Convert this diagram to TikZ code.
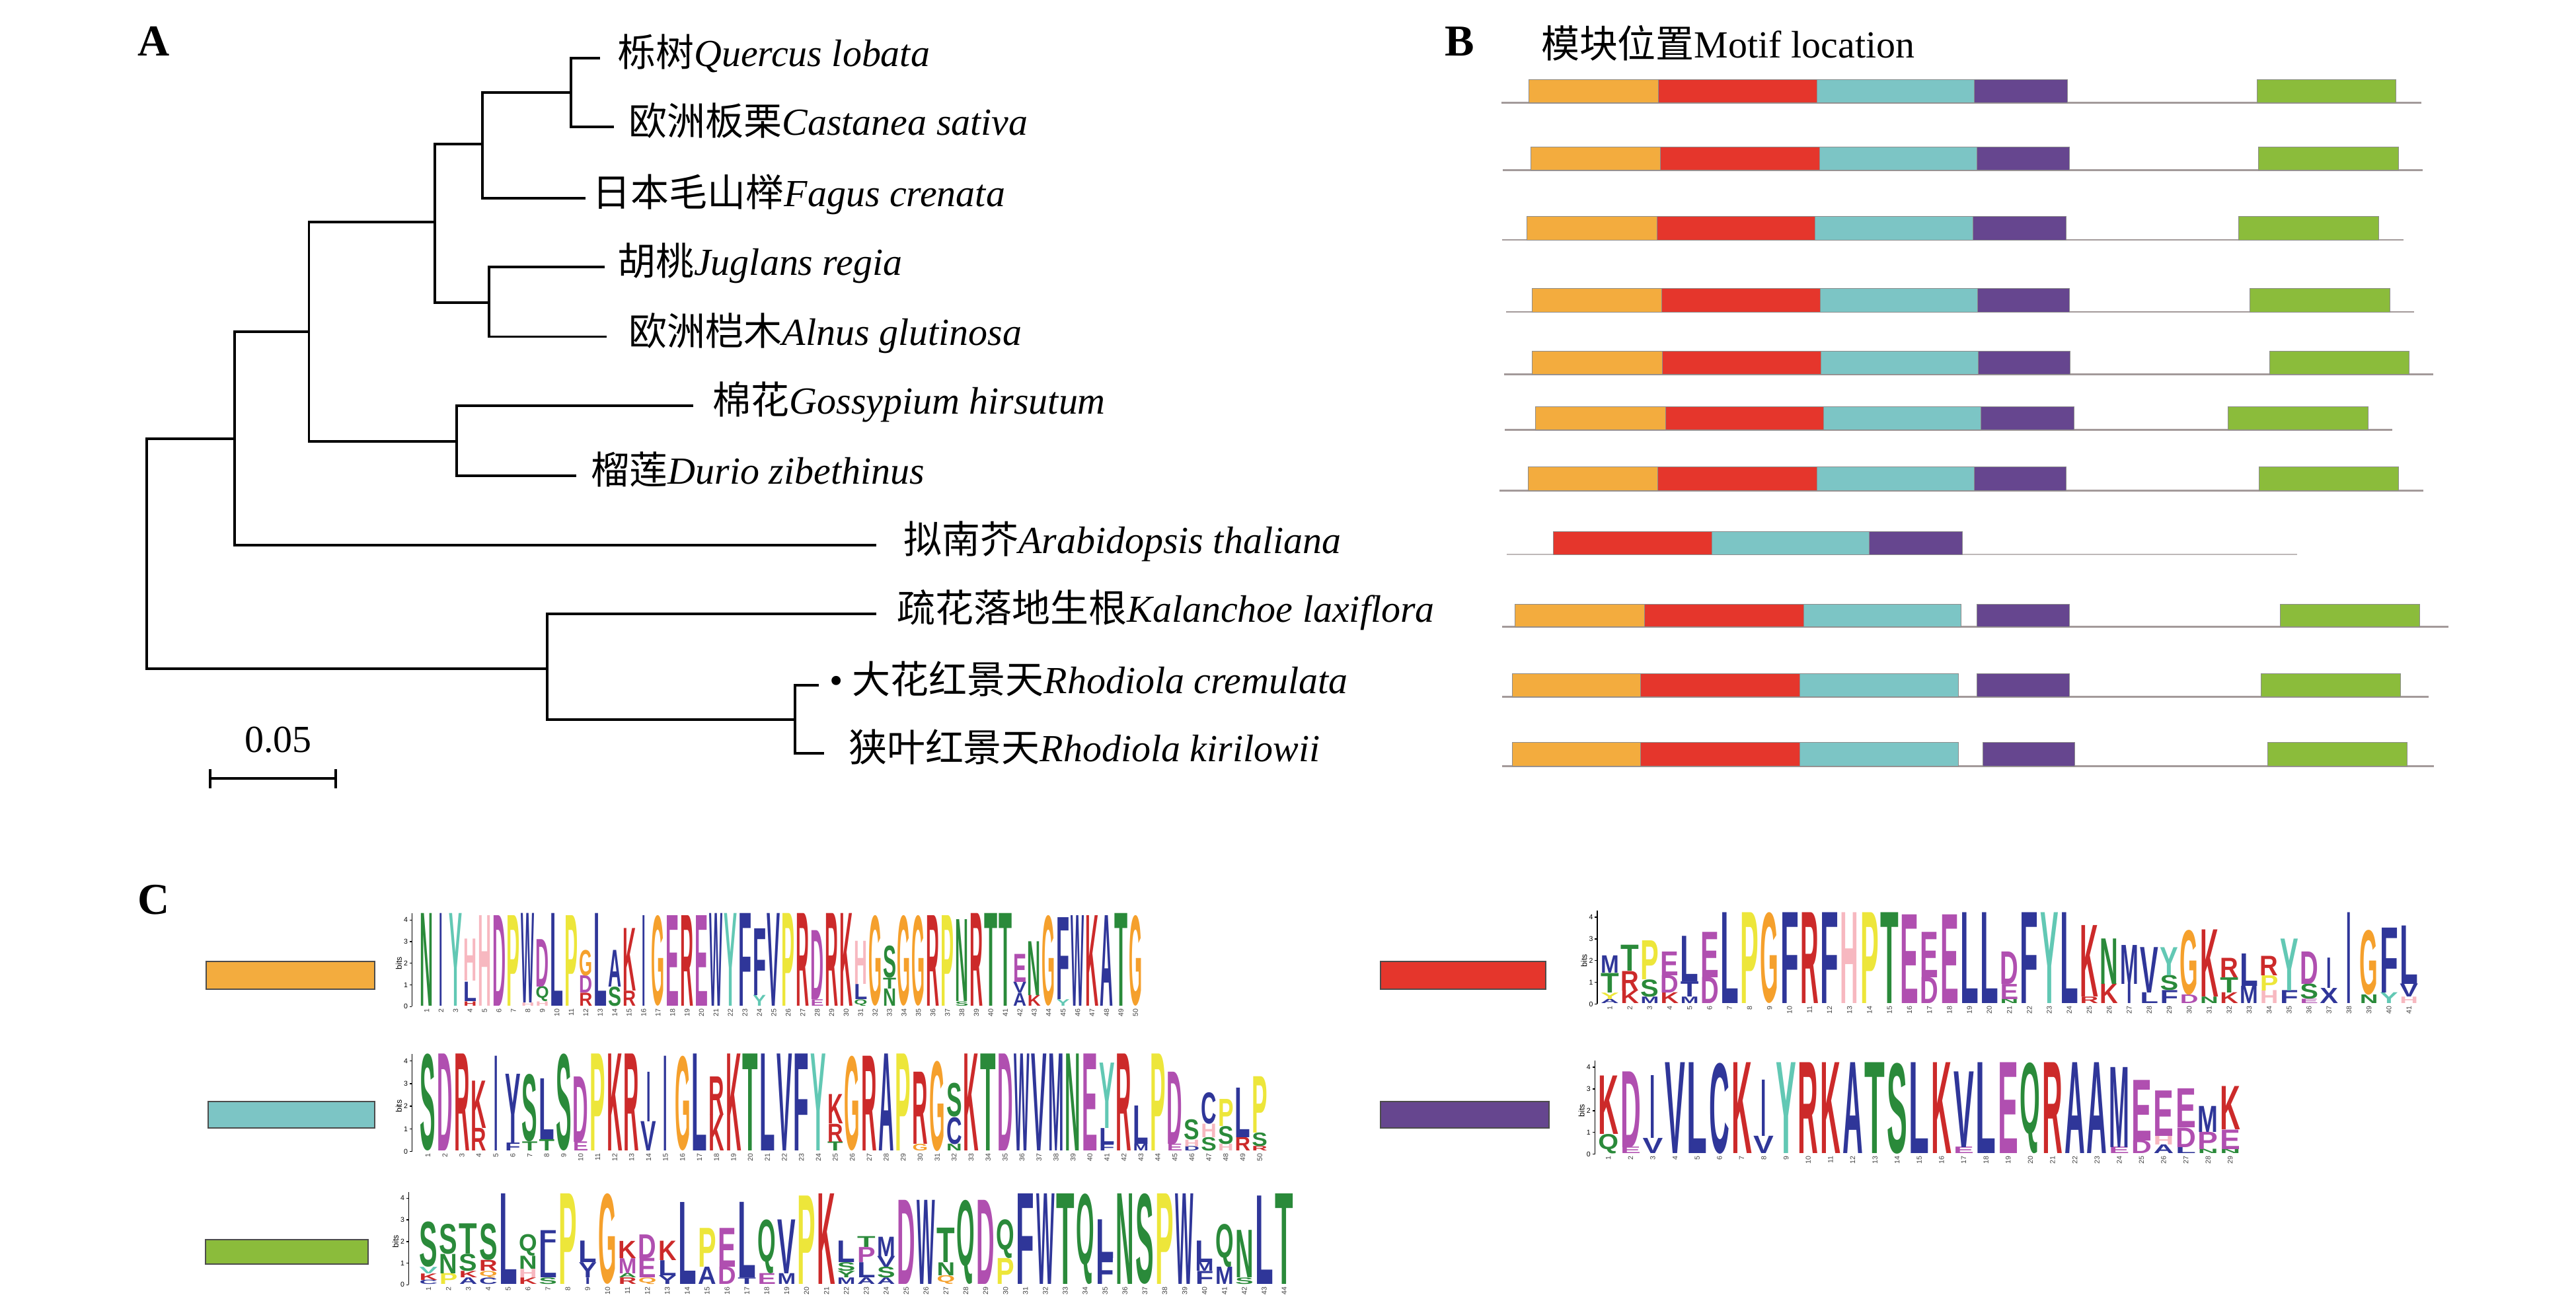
\documentclass[tikz,border=0pt]{standalone}
\usepackage{fontspec}
\usepackage{graphicx}
\setmainfont{Liberation Serif}
\newfontfamily\cjk{Noto Sans CJK SC}
\newfontfamily\logofont{Liberation Sans}

% motif bar colours
\definecolor{mo}{HTML}{F3AC3E}
\definecolor{mr}{HTML}{E5362C}
\definecolor{mc}{HTML}{7CC5C5}
\definecolor{mp}{HTML}{66468F}
\definecolor{mg}{HTML}{8BBC3B}
\definecolor{seq}{HTML}{A39A9A}
% logo letter colours
\definecolor{lb}{HTML}{2F3699}
\definecolor{lg}{HTML}{2A8A3A}
\definecolor{lr}{HTML}{CC2A2A}
\definecolor{lm}{HTML}{B04FB0}
\definecolor{ly}{HTML}{EDE63A}
\definecolor{lo}{HTML}{F5A02C}
\definecolor{lp}{HTML}{F7B8C0}
\definecolor{lc}{HTML}{62C8B4}

\tikzset{
  branch/.style={line width=1.1pt},
  lab/.style={anchor=west,inner sep=0pt,text height=0.92em,text depth=0.2em,font=\fontsize{16.5}{18}\selectfont},
  panel/.style={inner sep=0pt,font=\fontsize{19}{20}\selectfont\bfseries},
  aa/.style={anchor=south,inner sep=0pt,font=\logofont\bfseries},
  num/.style={rotate=90,anchor=east,inner sep=0pt,text=black!75,font=\logofont\fontsize{3}{3}\selectfont},
  tick/.style={left,inner sep=0.6pt,font=\logofont\fontsize{3}{3}\selectfont},
  motif/.style={draw=black!45,line width=0.25pt},
  legend/.style={draw=black!70,line width=0.6pt}
}

\begin{document}
\begin{tikzpicture}[x=0.025cm,y=-0.025cm]
\useasboundingbox (0,0) rectangle (1560,794);

\node[panel] (A) at (93,25) {A};
\node[panel] (B) at (884,25) {B};
\node[panel] (C) at (93,545) {C};

% A: tree
\coordinate (root) at (89.0,335.4);
\coordinate (nA) at (142.0,265.7);
\coordinate (nB) at (187.1,201.0);
\coordinate (nC) at (263.3,134.5);
\coordinate (nD) at (292.2,87.1);
\coordinate (nF) at (345.9,56.1);
\coordinate (nE) at (296.2,183.4);
\coordinate (nG) at (276.6,267.5);
\coordinate (nH) at (331.5,404.9);
\coordinate (nI) at (481.6,435.9);

\coordinate (l1) at (363.2,35.2);
\coordinate (l2) at (371.9,76.8);
\coordinate (l3) at (354.6,120.1);
\coordinate (l4) at (366.1,161.6);
\coordinate (l5) at (367.3,203.9);
\coordinate (l6) at (419.9,245.8);
\coordinate (l7) at (348.8,288.1);
\coordinate (l8) at (530.7,330.3);
\coordinate (l9) at (530.7,371.9);
\coordinate (l10) at (495.9,415.1);
\coordinate (l11) at (499.0,456.1);

\foreach \p/\q in {root/nA,root/nH,nA/nB,nA/l8,nB/nC,nB/nG,nC/nD,nC/nE,nD/nF,nD/l3,
  nF/l1,nF/l2,nE/l4,nE/l5,nG/l6,nG/l7,nH/l9,nH/nI,nI/l10,nI/l11}
  \draw[branch] (\p) |- (\q);

\node[lab] (quercus) at (373.6,35.2) {{\cjk 栎树}\textit{Quercus lobata}};
\node[lab] (castanea) at (380.6,76.8) {{\cjk 欧洲板栗}\textit{Castanea sativa}};
\node[lab] (fagus) at (358.6,120.1) {{\cjk 日本毛山榉}\textit{Fagus crenata}};
\node[lab] (juglans) at (373.6,161.6) {{\cjk 胡桃}\textit{Juglans regia}};
\node[lab] (alnus) at (380.6,203.9) {{\cjk 欧洲桤木}\textit{Alnus glutinosa}};
\node[lab] (gossypium) at (431.4,245.8) {{\cjk 棉花}\textit{Gossypium hirsutum}};
\node[lab] (durio) at (357.8,288.1) {{\cjk 榴莲}\textit{Durio zibethinus}};
\node[lab] (arabidopsis) at (546.9,330.3) {{\cjk 拟南芥}\textit{Arabidopsis thaliana}};
\node[lab] (kalanchoe) at (543.0,371.9) {{\cjk 疏花落地生根}\textit{Kalanchoe laxiflora}};
\node[lab] (cremulata) at (502.0,415.1) {• {\cjk 大花红景天}\textit{Rhodiola cremulata}};
\node[lab] (kirilowii) at (513.6,456.1) {{\cjk 狭叶红景天}\textit{Rhodiola kirilowii}};

% scale bar
\coordinate (s1) at (127.4,471.6);
\coordinate (s2) at (203.4,471.6);
\draw[branch] (s1) -- (s2);
\draw[branch] (s1) ++(0,-5.8) -- ++(0,11.6);
\draw[branch] (s2) ++(0,-5.8) -- ++(0,11.6);
\node[font=\fontsize{16.5}{18}\selectfont,inner sep=0pt] (scale) at (168.5,448.2) {0.05};

% B: motif locations
\node[lab] (title) at (933,30) {{\cjk 模块位置}Motif location};

\begin{scope}[xshift=0.301cm,xscale=0.987]
\foreach \yt/\yb/\la/\lz/\xa/\xb/\xc/\xd/\pa/\xe/\ga/\gb in {
  48.3/62.3/908.9/1473.4/926.0/1005.4/1102.8/1199.3/1199.3/1256.3/1372.5/1458.0,
  89.0/103.0/909.8/1474.3/926.9/1006.7/1104.1/1200.6/1200.6/1257.6/1373.4/1459.4,
  131.0/145.3/909.3/1462.4/924.7/1004.5/1101.5/1198.4/1198.4/1255.4/1361.5/1447.1,
  174.6/188.9/912.0/1469.0/927.8/1007.2/1104.5/1201.0/1201.0/1257.6/1368.1/1454.1,
  212.7/226.7/910.7/1480.9/927.8/1007.6/1105.0/1201.5/1201.5/1258.0/1380.4/1465.9,
  246.5/260.4/911.1/1455.8/930.0/1009.8/1106.7/1203.2/1203.2/1260.2/1355.0/1440.9,
  282.7/297.0/908.0/1474.7/925.6/1005.0/1102.8/1199.3/1199.3/1255.4/1373.8/1459.4,
  366.0/379.7/909.3/1490.1/917.2/996.6/1094.4/1190.9/1200.6/1257.6/1387.0/1472.5,
  408.0/422.0/909.3/1477.8/915.5/994.4/1092.2/1189.2/1200.6/1257.6/1375.1/1460.7,
  449.7/464.0/909.3/1481.3/915.5/994.4/1092.2/1189.2/1204.5/1260.7/1379.1/1464.6}
{
  \draw[seq,line width=0.8pt] (\la,\yb) -- (\lz,\yb);
  \filldraw[motif,fill=mo] (\xa,\yt) rectangle (\xb,\yb);
  \filldraw[motif,fill=mr] (\xb,\yt) rectangle (\xc,\yb);
  \filldraw[motif,fill=mc] (\xc,\yt) rectangle (\xd,\yb);
  \filldraw[motif,fill=mp] (\pa,\yt) rectangle (\xe,\yb);
  \filldraw[motif,fill=mg] (\ga,\yt) rectangle (\gb,\yb);
}
% Arabidopsis row
\draw[seq!70,line width=0.8pt] (912.4,335.8) -- (1397.1,335.8);
\filldraw[motif,fill=mr] (940.9,322.1) rectangle (1038.3,335.8);
\filldraw[motif,fill=mc] (1038.3,322.1) rectangle (1134.8,335.8);
\filldraw[motif,fill=mp] (1134.8,322.1) rectangle (1191.8,335.8);
\end{scope}

% C: legend bars
\filldraw[legend,fill=mo] (125.0,582.3) rectangle (226.8,599.0);
\filldraw[legend,fill=mc] (126.1,667.3) rectangle (226.8,683.0);
\filldraw[legend,fill=mg] (124.4,750.7) rectangle (222.8,765.7);
\filldraw[legend,fill=mr] (836,582.3) rectangle (936,599.0);
\filldraw[legend,fill=mp] (836,667.3) rectangle (938,683.0);

% C: sequence logos
\begin{scope}[shift={(249.5,609.6)}]
\def\cw{8.76}\def\bt{13.1}\def\ox{4.5}
\draw[line width=0.4pt] (0,0) -- (0,{-4.3*\bt});
\foreach \k in {0,...,4} \draw[line width=0.4pt] (0,{-\k*\bt}) -- ++(-1.5,0) node[tick] (ta\k) {\k};
\node[rotate=90,font=\logofont\fontsize{3.5}{3.5}\selectfont] (bitsa) at (-8,{-2*\bt}) {bits};
\foreach \ci/\ch/\lo/\hi/\cl in {
  1/N/0/4.3/lg, 2/I/0/4.3/lb, 3/Y/0/4.3/lc,
  4/H/0/0.2/lr, 4/L/0.2/1.1/lb, 4/H/1.15/3.1/lp,
  5/H/0/4.2/lp, 6/D/0/4.2/lm, 7/P/0/4.2/ly, 8/H/0/0.15/lp, 8/W/0.15/4.3/lb,
  9/H/0/0.2/lp, 9/Q/0.2/0.9/lg, 9/D/0.9/3.1/lm,
  10/L/0/4.3/lb, 11/P/0/4.2/ly,
  12/R/0/0.6/lr, 12/D/0.6/1.4/lm, 12/G/1.4/2.6/lo,
  13/L/0/4.3/lb, 14/S/0/0.9/lg, 14/A/0.9/2.6/lb, 15/R/0/0.7/lr, 15/K/0.7/3.6/lr,
  16/I/0/4.2/lb, 17/G/0/4.2/lo, 18/E/0/4.2/lm, 19/R/0/4.2/lr, 20/E/0/4.2/lm,
  21/W/0/4.3/lb, 22/Y/0/4.3/lc, 23/F/0/4.3/lb, 24/Y/0/0.5/lc, 24/F/0.5/3.6/lb,
  25/V/0/4.3/lb, 26/P/0/4.3/ly, 27/R/0/4.3/lr, 28/E/0/0.3/lm, 28/D/0.3/3.5/lm,
  29/R/0/4.3/lr, 30/K/0/4.3/lr, 31/Q/0/0.3/lg, 31/L/0.3/1.0/lb, 31/H/1.0/3.0/lp,
  32/G/0/4.2/lo, 33/N/0/0.8/lg, 33/T/0.8/1.3/lg, 33/S/1.3/2.8/lg,
  34/G/0/4.2/lo, 35/G/0/4.2/lo, 36/R/0/4.2/lr, 37/P/0/4.2/ly,
  38/S/0/0.2/lg, 38/N/0.2/4.0/lg, 39/R/0/4.3/lr, 40/T/0/4.3/lg, 41/T/0/4.3/lg,
  42/A/0/0.6/lb, 42/V/0.6/1.1/lb, 42/E/1.1/2.4/lm, 43/K/0/0.5/lr, 43/N/0.5/3.0/lg,
  44/G/0/4.2/lo, 45/Y/0/0.3/lc, 45/F/0.3/4.1/lb, 46/W/0/4.2/lb, 47/K/0/4.2/lr,
  48/A/0/4.2/lb, 49/T/0/4.3/lg, 50/G/0/4.2/lo}
{
  \if\ch I\def\lw{0.25}\else\def\lw{0.92}\fi
  \pgfmathsetmacro\lh{(\hi-\lo)*\bt*0.7087}
  \pgfmathsetmacro\lwd{\lw*\cw*0.7087}
  \node[aa] (a\ci\ch) at ({(\ci-0.5)*\cw+\ox},{-\lo*\bt}) {\resizebox*{\lwd pt}{\lh pt}{\color{\cl}\ch}};
}
\foreach \i in {1,...,50} \node[num] (pa\i) at ({(\i-0.5)*\cw+\ox},1) {\i};
\end{scope}

\begin{scope}[shift={(249.5,697.4)}]
\def\cw{10.28}\def\bt{13.7}\def\ox{4.5}
\draw[line width=0.4pt] (0,0) -- (0,{-4.3*\bt});
\foreach \k in {0,...,4} \draw[line width=0.4pt] (0,{-\k*\bt}) -- ++(-1.5,0) node[tick] (tb\k) {\k};
\node[rotate=90,font=\logofont\fontsize{3.5}{3.5}\selectfont] (bitsb) at (-8,{-2*\bt}) {bits};
\foreach \ci/\ch/\lo/\hi/\cl in {
  1/S/0/4.3/lg, 2/D/0/4.3/lm, 3/R/0/4.3/lr, 4/R/0/1.0/lr, 4/K/1.0/3.1/lr,
  5/I/0/4.2/lb, 6/F/0/0.35/lb, 6/Y/0.35/3.4/lb, 7/T/0/0.4/lg, 7/S/0.4/3.4/lg,
  8/T/0/0.5/lg, 8/L/0.5/3.2/lb, 9/S/0/4.3/lg, 10/E/0/0.4/lm, 10/D/0.4/3.3/lm,
  11/P/0/4.3/ly, 12/K/0/4.3/lr, 13/R/0/4.3/lr, 14/V/0/1.3/lb, 14/I/1.3/3.5/lb,
  15/I/0/4.2/lb, 16/G/0/4.2/lo, 17/L/0/4.3/lb, 18/K/0/1.6/lr, 18/R/1.6/3.3/lr,
  19/K/0/4.3/lr, 20/T/0/4.3/lg, 21/L/0/4.3/lb, 22/V/0/4.3/lb, 23/F/0/4.3/lb,
  24/Y/0/4.3/lc, 25/T/0/0.4/lg, 25/R/0.4/1.2/lr, 25/K/1.2/2.5/lr,
  26/G/0/4.2/lo, 27/R/0/4.2/lr, 28/A/0/4.3/lb, 29/P/0/4.3/ly, 30/G/0/0.3/lo, 30/R/0.3/3.5/lr,
  31/G/0/4.0/lo, 32/N/0/0.3/lg, 32/C/0.3/1.5/lb, 32/S/1.5/3.0/lg,
  33/K/0/4.3/lr, 34/T/0/4.3/lg, 35/D/0/4.3/lm, 36/W/0/4.3/lb, 37/V/0/4.3/lb,
  38/M/0/4.3/lb, 39/N/0/4.3/lg, 40/E/0/4.3/lm, 41/F/0/0.3/lb, 41/L/0.3/1.0/lb, 41/Y/1.0/3.9/lc,
  42/R/0/4.3/lr, 43/M/0/0.3/lb, 43/L/0.3/2.0/lb, 44/P/0/4.3/ly, 45/E/0/0.3/lm, 45/D/0.3/3.5/lm,
  46/D/0/0.2/lb, 46/H/0.2/0.5/lp, 46/S/0.5/1.4/lg, 47/S/0/0.6/lg, 47/H/0.6/1.2/lp, 47/C/1.2/2.6/lb,
  48/H/0/0.3/lp, 48/S/0.3/1.1/lg, 48/P/1.1/2.3/ly, 49/R/0/0.6/lr, 49/L/0.6/2.8/lb,
  50/R/0/0.2/lr, 50/S/0.2/0.8/lg, 50/P/0.8/3.3/ly}
{
  \if\ch I\def\lw{0.25}\else\def\lw{0.92}\fi
  \pgfmathsetmacro\lh{(\hi-\lo)*\bt*0.7087}
  \pgfmathsetmacro\lwd{\lw*\cw*0.7087}
  \node[aa] (b\ci\ch) at ({(\ci-0.5)*\cw+\ox},{-\lo*\bt}) {\resizebox*{\lwd pt}{\lh pt}{\color{\cl}\ch}};
}
\foreach \i in {1,...,50} \node[num] (pb\i) at ({(\i-0.5)*\cw+\ox},1) {\i};
\end{scope}

\begin{scope}[shift={(247.5,778.1)}]
\def\cw{12.05}\def\bt{13.1}\def\ox{6}
\draw[line width=0.4pt] (0,0) -- (0,{-4.3*\bt});
\foreach \k in {0,...,4} \draw[line width=0.4pt] (0,{-\k*\bt}) -- ++(-1.5,0) node[tick] (tc\k) {\k};
\node[rotate=90,font=\logofont\fontsize{3.5}{3.5}\selectfont] (bitsc) at (-8,{-2*\bt}) {bits};
\foreach \ci/\ch/\lo/\hi/\cl in {
  1/C/0/0.2/lb, 1/K/0.2/0.5/lr, 1/V/0.5/0.8/lc, 1/S/0.8/2.9/lg,
  2/P/0/0.5/ly, 2/N/0.5/1.4/lg, 2/S/1.4/2.8/lg,
  3/A/0/0.3/lb, 3/K/0.3/0.6/lr, 3/S/0.6/1.4/lg, 3/T/1.4/2.8/lg,
  4/C/0/0.3/lb, 4/Q/0.3/0.6/lo, 4/R/0.6/1.1/lr, 4/S/1.1/2.8/lg,
  5/L/0/4.2/lb, 6/K/0/0.3/lr, 6/H/0.3/0.7/lp, 6/N/0.7/1.3/lg, 6/Q/1.3/2.3/lg,
  7/S/0/0.3/lg, 7/L/0.3/1.6/lb, 7/F/1.6/2.5/lb, 8/P/0/4.2/ly,
  9/I/0/0.3/lb, 9/Y/0.3/1.0/lb, 9/L/1.0/2.0/lb, 10/G/0/4.2/lo,
  11/R/0/0.3/lr, 11/A/0.3/0.5/lg, 11/M/0.5/1.2/lm, 11/K/1.2/2.0/lr,
  12/Q/0/0.3/lo, 12/E/0.3/1.2/lm, 12/D/1.2/2.3/lm,
  13/Y/0/0.4/lb, 13/L/0.4/1.1/lb, 13/K/1.1/2.0/lr,
  14/L/0/3.8/lb, 15/A/0/0.8/lb, 15/P/0.8/2.6/ly, 16/D/0/0.8/lm, 16/E/0.8/2.6/lm,
  17/T/0/0.3/lb, 17/L/0.3/3.8/lb, 18/E/0/0.5/lm, 18/Q/0.5/3.0/lg, 19/M/0/0.5/lb, 19/V/0.5/3.0/lb,
  20/P/0/4.1/ly, 21/K/0/4.2/lr,
  22/M/0/0.3/lb, 22/Y/0.3/0.6/lg, 22/S/0.6/1.0/lg, 22/L/1.0/2.0/lb,
  23/A/0/0.3/lb, 23/L/0.3/1.0/lb, 23/P/1.0/1.7/lm, 23/T/1.7/2.2/lg,
  24/A/0/0.3/lb, 24/S/0.3/0.8/lg, 24/V/0.8/1.3/lb, 24/M/1.3/2.2/lb,
  25/D/0/3.9/lm, 26/W/0/3.9/lb, 27/Q/0/0.4/lo, 27/N/0.4/1.0/lg, 27/T/1.0/2.6/lg,
  28/Q/0/3.9/lg, 29/D/0/3.9/lm, 30/P/0/1.2/ly, 30/Q/1.2/3.0/lg,
  31/F/0/4.2/lb, 32/W/0/4.2/lb, 33/T/0/4.2/lg, 34/Q/0/4.2/lg,
  35/F/0/1.2/lb, 35/L/1.2/3.0/lb, 36/N/0/4.2/lg, 37/S/0/4.2/lg, 38/P/0/4.2/ly, 39/W/0/4.2/lb,
  40/F/0/0.6/lb, 40/M/0.6/1.0/lb, 40/L/1.0/2.0/lb, 41/M/0/0.8/lb, 41/Q/0.8/2.8/lg,
  42/S/0/0.3/lg, 42/N/0.3/2.5/lg, 43/L/0/4.1/lb, 44/T/0/4.2/lg}
{
  \if\ch I\def\lw{0.25}\else\def\lw{0.92}\fi
  \pgfmathsetmacro\lh{(\hi-\lo)*\bt*0.7087}
  \pgfmathsetmacro\lwd{\lw*\cw*0.7087}
  \node[aa] (c\ci\ch) at ({(\ci-0.5)*\cw+\ox},{-\lo*\bt}) {\resizebox*{\lwd pt}{\lh pt}{\color{\cl}\ch}};
}
\foreach \i in {1,...,44} \node[num] (pc\i) at ({(\i-0.5)*\cw+\ox},1) {\i};
\end{scope}

\begin{scope}[shift={(967.3,608.1)}]
\def\cw{12.1}\def\bt{13.15}\def\ox{1.5}
\draw[line width=0.4pt] (0,0) -- (0,{-4.3*\bt});
\foreach \k in {0,...,4} \draw[line width=0.4pt] (0,{-\k*\bt}) -- ++(-1.5,0) node[tick] (td\k) {\k};
\node[rotate=90,font=\logofont\fontsize{3.5}{3.5}\selectfont] (bitsd) at (-8,{-2*\bt}) {bits};
\foreach \ci/\ch/\lo/\hi/\cl in {
  1/A/0/0.2/lb, 1/Y/0.2/0.5/ly, 1/T/0.5/1.4/lg, 1/M/1.4/2.2/lb,
  2/K/0/0.6/lr, 2/R/0.6/1.5/lr, 2/T/1.5/2.7/lg,
  3/M/0/0.3/lb, 3/S/0.3/1.1/lg, 3/P/1.1/2.9/ly,
  4/K/0/0.5/lr, 4/D/0.5/1.3/lm, 4/E/1.3/2.4/lm,
  5/M/0/0.3/lb, 5/T/0.3/1.0/lb, 5/L/1.0/3.1/lb,
  6/D/0/1.2/lm, 6/E/1.2/3.3/lm, 7/L/0/4.2/lb, 8/P/0/4.2/ly, 9/G/0/4.2/lo,
  10/F/0/4.2/lb, 11/R/0/4.2/lr, 12/F/0/4.2/lb, 13/H/0/4.2/lp, 14/P/0/4.2/ly,
  15/T/0/4.2/lg, 16/E/0/4.1/lm, 17/D/0/1.2/lm, 17/E/1.2/3.3/lm, 18/E/0/4.1/lm,
  19/L/0/4.2/lb, 20/L/0/4.2/lb, 21/N/0/0.2/lg, 21/E/0.2/0.9/lm, 21/D/0.9/2.4/lm,
  22/F/0/4.2/lb, 23/Y/0/4.2/lc, 24/L/0/4.2/lb, 25/R/0/0.3/lr, 25/K/0.3/3.6/lr,
  26/K/0/0.9/lr, 26/N/0.9/3.0/lg, 27/I/0/0.9/lb, 27/M/0.9/2.7/lb,
  28/L/0/0.5/lb, 28/V/0.5/2.6/lb, 29/F/0/0.6/lb, 29/S/0.6/1.3/lg, 29/Y/1.3/2.6/lc,
  30/D/0/0.4/lm, 30/G/0.4/3.4/lo, 31/N/0/0.3/lg, 31/K/0.3/3.4/lr,
  32/K/0/0.5/lr, 32/T/0.5/1.2/lg, 32/R/1.2/2.1/lr, 33/M/0/0.8/lb, 33/L/0.8/2.3/lb,
  34/H/0/0.6/lp, 34/P/0.6/1.3/ly, 34/R/1.3/2.2/lr, 35/F/0/0.6/lb, 35/Y/0.6/3.0/lc,
  36/E/0/0.2/lm, 36/S/0.2/0.9/lg, 36/D/0.9/2.4/lm, 37/X/0/0.7/lb, 37/I/0.7/2.1/lb,
  38/I/0/4.2/lb, 39/N/0/0.4/lg, 39/G/0.4/3.4/lo, 40/Y/0/0.5/lc, 40/F/0.5/3.5/lb,
  41/H/0/0.3/lp, 41/V/0.3/0.9/lb, 41/L/0.9/3.6/lb}
{
  \if\ch I\def\lw{0.25}\else\def\lw{0.92}\fi
  \pgfmathsetmacro\lh{(\hi-\lo)*\bt*0.7087}
  \pgfmathsetmacro\lwd{\lw*\cw*0.7087}
  \node[aa] (d\ci\ch) at ({(\ci-0.5)*\cw+\ox},{-\lo*\bt}) {\resizebox*{\lwd pt}{\lh pt}{\color{\cl}\ch}};
}
\foreach \i in {1,...,41} \node[num] (pd\i) at ({(\i-0.5)*\cw+\ox},1) {\i};
\end{scope}

\begin{scope}[shift={(965.8,699.0)}]
\def\cw{13.45}\def\bt{13.15}\def\ox{1.5}
\draw[line width=0.4pt] (0,0) -- (0,{-4.3*\bt});
\foreach \k in {0,...,4} \draw[line width=0.4pt] (0,{-\k*\bt}) -- ++(-1.5,0) node[tick] (te\k) {\k};
\node[rotate=90,font=\logofont\fontsize{3.5}{3.5}\selectfont] (bitse) at (-8,{-2*\bt}) {bits};
\foreach \ci/\ch/\lo/\hi/\cl in {
  1/Q/0/0.9/lg, 1/K/0.9/3.6/lr, 2/E/0/0.3/lm, 2/D/0.3/3.8/lm,
  3/V/0/0.7/lb, 3/I/0.7/3.6/lb, 4/V/0/4.2/lb, 5/L/0/4.2/lb, 6/C/0/4.2/lb,
  7/K/0/4.2/lr, 8/V/0/0.8/lb, 8/I/0.8/3.4/lb, 9/Y/0/4.2/lc, 10/R/0/4.2/lr,
  11/K/0/4.2/lr, 12/A/0/4.2/lb, 13/T/0/4.2/lg, 14/S/0/4.2/lg, 15/L/0/4.2/lb,
  16/K/0/4.2/lr, 17/E/0/0.3/lm, 17/V/0.3/3.8/lb, 18/L/0/4.2/lb, 19/E/0/4.2/lm,
  20/Q/0/4.2/lg, 21/R/0/4.2/lr, 22/A/0/4.2/lb, 23/A/0/4.2/lb,
  24/E/0/0.3/lm, 24/M/0.3/4.0/lb, 25/D/0/0.6/lm, 25/E/0.6/3.4/lm,
  26/A/0/0.4/lb, 26/H/0.4/0.8/lp, 26/E/0.8/2.9/lm,
  27/L/0/0.3/lb, 27/D/0.3/1.2/lm, 27/E/1.2/3.0/lm,
  28/N/0/0.2/lg, 28/P/0.2/1.0/lm, 28/M/1.0/2.2/lb,
  29/N/0/0.2/lg, 29/E/0.2/1.1/lm, 29/K/1.1/3.1/lr}
{
  \if\ch I\def\lw{0.25}\else\def\lw{0.92}\fi
  \pgfmathsetmacro\lh{(\hi-\lo)*\bt*0.7087}
  \pgfmathsetmacro\lwd{\lw*\cw*0.7087}
  \node[aa] (e\ci\ch) at ({(\ci-0.5)*\cw+\ox},{-\lo*\bt}) {\resizebox*{\lwd pt}{\lh pt}{\color{\cl}\ch}};
}
\foreach \i in {1,...,29} \node[num] (pe\i) at ({(\i-0.5)*\cw+\ox},1) {\i};
\end{scope}

\end{tikzpicture}
\end{document}
